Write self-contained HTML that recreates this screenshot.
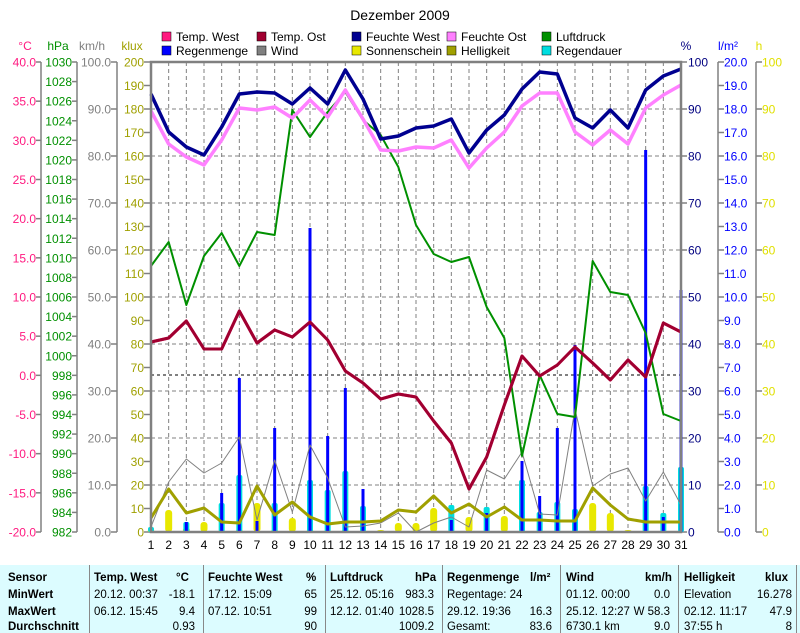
<!DOCTYPE html>
<html><head><meta charset="utf-8"><style>
body{margin:0;background:#fff;width:800px;height:633px;overflow:hidden;font-family:"Liberation Sans",sans-serif}
svg{position:absolute;left:0;top:0}
.tb{position:absolute;left:0;top:565px;width:800px;height:68px;background:#dcfcff}
.tb div{position:absolute;font-size:11.5px;white-space:nowrap}
.b{font-weight:bold}
.sep{position:absolute;top:0;width:1px;height:68px;background:#888}
</style></head><body>
<svg width="800" height="565" font-family="Liberation Sans, sans-serif" font-size="12">
<text x="400" y="20" text-anchor="middle" font-size="14">Dezember 2009</text>
<!-- legend -->
<g font-size="12">
<rect x="162" y="32" width="9" height="9" fill="#ff1a80" stroke="#000" stroke-width=".5"/><text x="176" y="41">Temp. West</text>
<rect x="257" y="32" width="9" height="9" fill="#a00030" stroke="#000" stroke-width=".5"/><text x="271" y="41">Temp. Ost</text>
<rect x="352" y="32" width="9" height="9" fill="#000090" stroke="#000" stroke-width=".5"/><text x="366" y="41">Feuchte West</text>
<rect x="447" y="32" width="9" height="9" fill="#ff80ff" stroke="#000" stroke-width=".5"/><text x="461" y="41">Feuchte Ost</text>
<rect x="542" y="32" width="9" height="9" fill="#009000" stroke="#000" stroke-width=".5"/><text x="556" y="41">Luftdruck</text>
<rect x="162" y="46" width="9" height="9" fill="#0000ff" stroke="#000" stroke-width=".5"/><text x="176" y="55">Regenmenge</text>
<rect x="257" y="46" width="9" height="9" fill="#808080" stroke="#000" stroke-width=".5"/><text x="271" y="55">Wind</text>
<rect x="352" y="46" width="9" height="9" fill="#e8e800" stroke="#000" stroke-width=".5"/><text x="366" y="55">Sonnenschein</text>
<rect x="447" y="46" width="9" height="9" fill="#a0a000" stroke="#000" stroke-width=".5"/><text x="461" y="55">Helligkeit</text>
<rect x="542" y="46" width="9" height="9" fill="#00dde0" stroke="#000" stroke-width=".5"/><text x="556" y="55">Regendauer</text>
</g>
<!-- unit headers -->
<text x="25" y="50" text-anchor="middle" fill="#ff1a80">°C</text>
<text x="58" y="50" text-anchor="middle" fill="#009000">hPa</text>
<text x="92" y="50" text-anchor="middle" fill="#808080">km/h</text>
<text x="132" y="50" text-anchor="middle" fill="#a0a000">klux</text>
<text x="686" y="50" text-anchor="middle" fill="#000080">%</text>
<text x="728" y="50" text-anchor="middle" fill="#0000ff">l/m²</text>
<text x="759" y="50" text-anchor="middle" fill="#e0e000">h</text>
<!-- axis lines -->
<g stroke="#808080" stroke-width="1.5">
<line x1="41" y1="62" x2="41" y2="532"/><line x1="77" y1="62" x2="77" y2="532"/><line x1="117" y1="62" x2="117" y2="532"/>
<line x1="718" y1="62" x2="718" y2="532"/><line x1="756" y1="62" x2="756" y2="532"/>
</g>
<g id="ax"></g>
<!-- grid -->
<g id="grid" stroke="#808080" stroke-dasharray="4,3" stroke-width="1"></g>
<line x1="151" y1="375" x2="681" y2="375" stroke="#000" stroke-dasharray="3,3"/>
<g id="bars"></g>
<g fill="none" stroke-linejoin="round">
<polyline id="wind" stroke="#808080" stroke-width="1"/>
<polyline id="hell" stroke="#a0a000" stroke-width="3"/>
<polyline id="luft" stroke="#009000" stroke-width="2"/>
<polyline id="tw" stroke="#ff1a80" stroke-width="3"/>
<polyline id="to" stroke="#a00030" stroke-width="3"/>
<polyline id="fo" stroke="#ff80ff" stroke-width="3.5"/>
<polyline id="fw" stroke="#000090" stroke-width="3.5"/>
</g>
<rect x="151" y="62" width="530" height="470" fill="none" stroke="#808080" stroke-width="2.5"/>
<g id="days" font-size="12" text-anchor="middle"></g>
</svg>
<div class="tb">
<div class="sep" style="left:89px"></div><div class="sep" style="left:203px"></div><div class="sep" style="left:325px"></div><div class="sep" style="left:442px"></div><div class="sep" style="left:560px"></div><div class="sep" style="left:678px"></div><div class="sep" style="left:796px"></div>
<div class="b" style="left:8px;top:7px">Sensor</div><div class="b" style="left:8px;top:24px">MinWert</div><div class="b" style="left:8px;top:41px">MaxWert</div><div class="b" style="left:8px;top:56px">Durchschnitt</div>
<div class="b" style="left:94px;top:7px">Temp. West</div><div class="b" style="left:176px;top:7px">°C</div>
<div style="left:94px;top:24px">20.12. 00:37</div><div style="right:605px;top:24px">-18.1</div>
<div style="left:94px;top:41px">06.12. 15:45</div><div style="right:605px;top:41px">9.4</div>
<div style="right:605px;top:56px">0.93</div>
<div class="b" style="left:208px;top:7px">Feuchte West</div><div class="b" style="left:306px;top:7px">%</div>
<div style="left:208px;top:24px">17.12. 15:09</div><div style="right:483px;top:24px">65</div>
<div style="left:208px;top:41px">07.12. 10:51</div><div style="right:483px;top:41px">99</div>
<div style="right:483px;top:56px">90</div>
<div class="b" style="left:330px;top:7px">Luftdruck</div><div class="b" style="left:415px;top:7px">hPa</div>
<div style="left:330px;top:24px">25.12. 05:16</div><div style="right:366px;top:24px">983.3</div>
<div style="left:330px;top:41px">12.12. 01:40</div><div style="right:366px;top:41px">1028.5</div>
<div style="right:366px;top:56px">1009.2</div>
<div class="b" style="left:447px;top:7px">Regenmenge</div><div class="b" style="left:530px;top:7px">l/m²</div>
<div style="left:447px;top:24px">Regentage: 24</div>
<div style="left:447px;top:41px">29.12. 19:36</div><div style="right:248px;top:41px">16.3</div>
<div style="left:447px;top:56px">Gesamt:</div><div style="right:248px;top:56px">83.6</div>
<div class="b" style="left:566px;top:7px">Wind</div><div class="b" style="left:645px;top:7px">km/h</div>
<div style="left:566px;top:24px">01.12. 00:00</div><div style="right:130px;top:24px">0.0</div>
<div style="left:566px;top:41px">25.12. 12:27</div><div style="right:130px;top:41px">W 58.3</div>
<div style="left:566px;top:56px">6730.1 km</div><div style="right:130px;top:56px">9.0</div>
<div class="b" style="left:684px;top:7px">Helligkeit</div><div class="b" style="left:765px;top:7px">klux</div>
<div style="left:684px;top:24px">Elevation</div><div style="right:8px;top:24px">16.278</div>
<div style="left:684px;top:41px">02.12. 11:17</div><div style="right:8px;top:41px">47.9</div>
<div style="left:684px;top:56px">37:55 h</div><div style="right:8px;top:56px">8</div>
</div>
<script>
var NS="http://www.w3.org/2000/svg";
function X(d){return 151+(d-1)*530/30}
function el(p,t,a,txt){var e=document.createElementNS(NS,t);for(var k in a)e.setAttribute(k,a[k]);if(txt!=null)e.textContent=txt;document.getElementById(p).appendChild(e);return e}
// grid
for(var i=1;i<10;i++)el("grid","line",{x1:151,x2:681,y1:62+47*i,y2:62+47*i});
for(var d=2;d<31;d++)el("grid","line",{x1:X(d),x2:X(d),y1:62,y2:532});
for(d=1;d<=31;d++)el("days","text",{x:X(d),y:549},d);
// axes
function axis(n,y0,dy,xl,anchor,col,fmt,tx1,tx2){for(var i=0;i<n;i++){var y=y0+dy*i;el("ax","text",{x:xl,y:y+4.5,"text-anchor":anchor,fill:col},fmt(i));if(tx1!=null)el("ax","line",{x1:tx1,x2:tx2,y1:y,y2:y,stroke:"#808080","stroke-width":1.5});}}
axis(13,62,470/12,36,"end","#ff1a80",function(i){return (40-5*i).toFixed(1)},36,41);
axis(25,62,470/24,72,"end","#009000",function(i){return 1030-2*i},72,77);
axis(11,62,47,111,"end","#808080",function(i){return (100-10*i).toFixed(1)},111,117);
axis(21,62,23.5,144,"end","#a0a000",function(i){return 200-10*i},144,151);
axis(11,62,47,688,"start","#000080",function(i){return 100-10*i},681,687);
axis(21,62,23.5,724,"start","#0000ff",function(i){return (20-i).toFixed(1)},718,724);
axis(11,62,47,762,"start","#e0e000",function(i){return 100-10*i},756,762);
function pts(id,a){document.getElementById(id).setAttribute("points",a.map(function(y,i){return X(i+1)+","+y}).join(" "))}
pts("fw",[94,132,147,155,127,94,92,93,104,88,104,70,99,139,136,128,126,119,153,130,115,89,72,74,118,128,110,128,90,76,69]);
pts("fo",[111,144,157,165,140,108,110,107,118,100,117,90,119,150,151,147,148,140,168,148,132,106,93,93,132,145,130,144,108,95,85]);
pts("luft",[266,242,305,256,233,266,232,235,110,137,112,92,120,135,167,225,254,262,257,307,338,456,375,414,417,261,292,295,333,414,421]);
var t=[342,338,321,349,349,311,343,330,337,322,340,371,383,399,394,397,421,443,489,457,405,356,376,365,347,363,380,360,377,323,332];
pts("tw",t);pts("to",t);
pts("wind",[527,482,459,473,463,437,520,460,512,445,478,527,526,523,513,532,523,517,527,470,479,452,514,515,409,486,474,468,501,472,505]);
pts("hell",[518,489,513,508,522,523,486,515,502,517,524,522,522,521,510,512,496,513,504,517,507,520,520,521,521,488,505,519,522,522,522]);
var sun={1:530,2:510,3:528,4:522,6:530,7:503,8:530,9:518,10:530,12:530,14:530,15:523,16:523,17:508,19:517,21:516,26:503,27:513,28:530};
var cy={1:527,3:522,5:503,6:475,8:503,10:480,11:490,12:471,13:506,18:505,20:507,22:480,23:512,24:502,25:509,29:486,30:513,31:467};
var rn={3:522,5:493,6:378,7:521,8:428,10:228,11:436,12:388,13:489,18:520,20:513,22:461,23:496,24:428,25:345,29:150,30:517,31:290};
for(d in sun)el("bars","rect",{x:X(+d)-3.5,y:sun[d],width:7,height:532-sun[d],rx:3,fill:"#e8e800"});
for(d in cy)el("bars","rect",{x:X(+d)-3,y:cy[d],width:6,height:532-cy[d],rx:2,fill:"#00dde0"});
for(d in rn)el("bars","rect",{x:X(+d)-1.5,y:rn[d],width:3,height:532-rn[d],fill:"#0000ff"});
</script>
</body></html>
